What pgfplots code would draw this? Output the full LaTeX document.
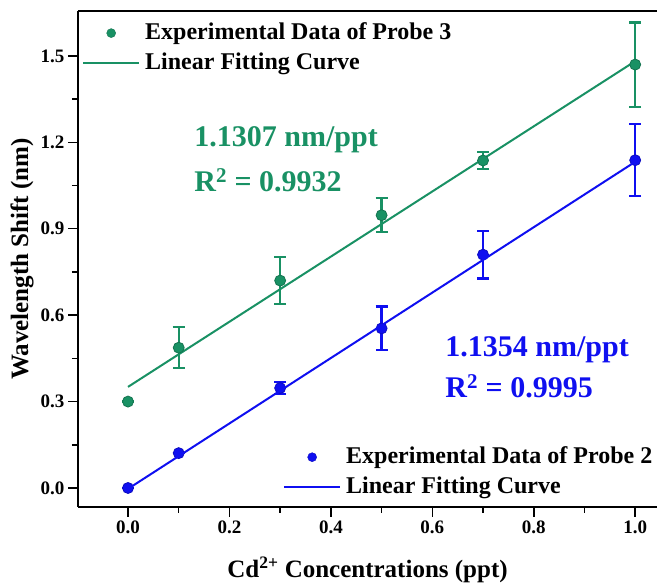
\documentclass[border=0pt]{standalone}
\usepackage{fontspec}
\setmainfont{Liberation Serif}
\usepackage{pgfplots}
\pgfplotsset{compat=1.18}
\definecolor{pgreen}{RGB}{25,145,100}
\definecolor{pblue}{RGB}{15,15,240}

\pgfplotsset{
  commonaxis/.style={
    at={(0,0)}, anchor=south west,
    scale only axis, width=579pt, height=496pt,
    xmin=-0.0986, xmax=1.043, ymin=-0.066, ymax=1.656,
    legend cell align=left,
    legend image code/.code={\draw[mark repeat=2,mark phase=2,##1] plot coordinates {(0pt,0pt) (28pt,0pt) (56pt,0pt)};},
  },
  mylegend/.style={
    draw=none, fill=none, inner sep=0pt,
    font=\fontsize{24}{27}\selectfont\bfseries,
    nodes={inner sep=0pt, text height=17pt, text depth=5pt},
    row sep=8pt,
    /tikz/every odd column/.append style={column sep=5pt},
  },
}

\begin{document}
\begin{tikzpicture}
\path[use as bounding box] (-78pt,-78pt) rectangle (579pt,507pt);
\begin{axis}[
  commonaxis,
  axis x line=box, axis y line*=left,
  y axis line style={-},
  axis line style={line width=1.5pt},
  xtick={0,0.2,0.4,0.6,0.8,1.0}, ytick={0,0.3,0.6,0.9,1.2,1.5},
  minor x tick num=1, minor y tick num=1,
  xtick pos=bottom, ytick pos=left,
  tick align=outside,
  major tick length=10pt, minor tick length=6pt,
  every tick/.style={line width=1.5pt, black},
  /pgf/number format/assume math mode=true,
  xticklabel style={/pgf/number format/.cd,fixed,fixed zerofill,precision=1},
  yticklabel style={/pgf/number format/.cd,fixed,fixed zerofill,precision=1},
  tick label style={font=\fontsize{19}{22}\selectfont\bfseries},
  xlabel={Cd\textsuperscript{2+} Concentrations (ppt)},
  ylabel={Wavelength Shift (nm)},
  label style={font=\fontsize{25}{28}\selectfont\bfseries},
  xlabel style={at={(axis description cs:0.5,-0.127)}, anchor=center},
  ylabel style={at={(axis description cs:-0.0967,0.5)}, anchor=center},
  legend style={mylegend, at={(axis description cs:0.0069,0.978)}, anchor=north west},
]
\addlegendimage{only marks, mark=*, mark size=4.5pt, mark options={fill=pgreen, draw=pgreen!80!black}}
\addlegendentry{Experimental Data of Probe 3}
\addplot[pgreen, line width=2pt] coordinates {(0,0.351) (1,1.4817)};
\addlegendentry{Linear Fitting Curve}
\addplot[forget plot, only marks, mark=*, mark size=5.5pt, mark options={fill=pgreen, draw=pgreen!80!black, line width=0.8pt},
  error bars/.cd, y dir=both, y explicit,
  error bar style={line width=2.2pt, pgreen},
  error mark options={line width=2.2pt, pgreen, mark size=6pt, rotate=90}]
  table[x=x, y=y, y error=e] {
x y e
0 0.300 0
0.1 0.487 0.071
0.3 0.720 0.082
0.5 0.947 0.059
0.7 1.137 0.030
1.0 1.470 0.146
};
\addplot[forget plot, only marks, mark=*, mark size=5.5pt, mark options={fill=pblue, draw=pblue!80!black, line width=0.8pt},
  error bars/.cd, y dir=both, y explicit,
  error bar style={line width=2.2pt, pblue},
  error mark options={line width=2.2pt, pblue, mark size=6pt, rotate=90}]
  table[x=x, y=y, y error=e] {
x y e
0 0.000 0
0.1 0.121 0
0.3 0.347 0.020
0.5 0.554 0.076
0.7 0.810 0.083
1.0 1.138 0.125
};
\node[anchor=base west, text=pgreen, font=\fontsize{30}{33}\selectfont\bfseries] at (axis cs:0.124,1.184) {1.1307 nm/ppt};
\node[anchor=base west, text=pgreen, font=\fontsize{30}{33}\selectfont\bfseries] at (axis cs:0.124,1.028) {R\textsuperscript{2} = 0.9932};
\node[anchor=base west, text=pblue, font=\fontsize{30}{33}\selectfont\bfseries] at (axis cs:0.619,0.458) {1.1354 nm/ppt};
\node[anchor=base west, text=pblue, font=\fontsize{30}{33}\selectfont\bfseries] at (axis cs:0.619,0.3125) {R\textsuperscript{2} = 0.9995};
\end{axis}
\begin{axis}[
  commonaxis,
  hide axis,
  legend style={mylegend, at={(axis description cs:0.354,0.123)}, anchor=north west},
]
\addlegendimage{only marks, mark=*, mark size=4.5pt, mark options={fill=pblue, draw=pblue!80!black}}
\addlegendentry{Experimental Data of Probe 2}
\addplot[pblue, line width=2pt] coordinates {(0,-0.003) (1,1.1324)};
\addlegendentry{Linear Fitting Curve}
\end{axis}
\end{tikzpicture}
\end{document}
